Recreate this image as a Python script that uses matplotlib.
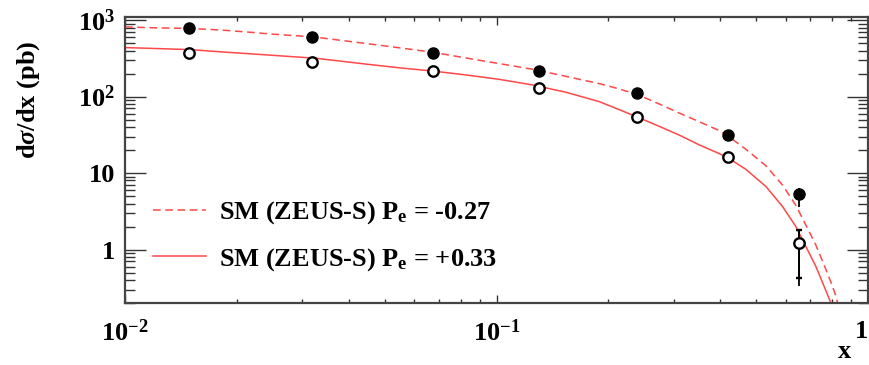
import numpy as np
import matplotlib.pyplot as plt
from matplotlib.ticker import FixedLocator, FixedFormatter, NullFormatter

# data
x_pts = [0.0149, 0.0318, 0.0673, 0.130, 0.239, 0.420, 0.653]
y_minus = [787, 606, 371, 216, 112, 31.6, 5.4]        # filled, Pe = -0.27
y_plus = [369, 281, 216, 130, 54.3, 16.3, 1.23]       # open, Pe = +0.33
minus_lo = [12, 10, 7, 5, 3, 1.2, 1.76]
minus_hi = [12, 10, 7, 5, 3, 1.2, 1.0]
plus_stat_lo = [8, 7, 5, 4, 2, 0.9, 0.81]
plus_stat_hi = [8, 7, 5, 4, 2, 0.9, 0.59]
plus_tot_lo = [9, 8, 6, 5, 2.5, 1.1, 0.90]
plus_tot_hi = [9, 8, 6, 5, 2.5, 1.1, 0.59]

# SM curves (ZEUS-S)
x_sm_plus = [0.0100, 0.01191, 0.01495, 0.0180, 0.02454, 0.03276, 0.04465,
             0.05484, 0.06743, 0.08288, 0.1019, 0.1252, 0.1539, 0.1891,
             0.2141, 0.2424, 0.2744, 0.3104, 0.3512, 0.3975, 0.4184, 0.4690,
             0.5309, 0.5884, 0.6391, 0.6800, 0.7235, 0.7615, 0.7938]
y_sm_plus = [438, 427, 412, 386, 349, 317, 266,
             238, 216, 192, 168, 142, 114, 86,
             67.5, 52.7, 40.8, 31.4, 23.4, 18.0, 16.0, 11.2,
             6.69, 3.67, 2.01, 1.10, 0.605, 0.332, 0.2017]
x_sm_minus = [0.0100, 0.01191, 0.01495, 0.0180, 0.02213, 0.02454, 0.03208,
              0.04465, 0.05484, 0.06743, 0.08288, 0.1019, 0.1252, 0.1539,
              0.1891, 0.2141, 0.2424, 0.2744, 0.3104, 0.3512, 0.3975, 0.4184,
              0.4690, 0.5309, 0.5884, 0.6391, 0.6800, 0.7235, 0.7615, 0.7938,
              0.8188, 0.828]
y_sm_minus = [817, 795, 779, 745, 690, 660, 605,
              495, 435, 380, 320, 270, 228, 184,
              148, 126, 104, 80, 61, 47, 36, 31,
              20.5, 12.5, 7.0, 3.8, 2.1, 1.15, 0.63, 0.38,
              0.25, 0.2]

plt.rcParams['font.family'] = ['Liberation Serif', 'DejaVu Serif']
plt.rcParams['font.weight'] = 'bold'
plt.rcParams['mathtext.fontset'] = 'custom'
plt.rcParams['mathtext.rm'] = 'Liberation Serif:bold'
plt.rcParams['mathtext.it'] = 'Liberation Serif:italic:bold'
plt.rcParams['mathtext.bf'] = 'Liberation Serif:bold'

red = '#ff4848'
fs = 19

fig = plt.figure(figsize=(8.7, 3.65), dpi=100)
ax = fig.add_axes([0.1437, 0.1699, 0.8540, 0.7835])

l1, = ax.plot(x_sm_minus, y_sm_minus, color=red, lw=1.1, dashes=(5, 3),
              label=r'SM (ZEUS-S) P$_{\rm e}$ = -0.27')
l2, = ax.plot(x_sm_plus, y_sm_plus, color=red, lw=1.1,
              label=r'SM (ZEUS-S) P$_{\rm e}$ = +0.33')

ax.errorbar(x_pts, y_minus, yerr=[minus_lo, minus_hi], fmt='o', color='black',
            ms=8, elinewidth=1.3, capsize=0, zorder=5)
ax.errorbar(x_pts, y_plus, yerr=[plus_tot_lo, plus_tot_hi], fmt='none',
            ecolor='black', elinewidth=1.3, capsize=0, zorder=5)
ax.errorbar(x_pts, y_plus, yerr=[plus_stat_lo, plus_stat_hi], fmt='o',
            color='black', mfc='white', mec='black', mew=1.7, ms=7.5,
            elinewidth=1.3, capsize=2, capthick=1.0, zorder=6)

ax.set_xscale('log')
ax.set_yscale('log')
ax.set_xlim(0.01, 1)
ax.set_ylim(0.2, 1100)

ax.xaxis.set_major_locator(FixedLocator([0.01, 0.1, 1]))
ax.xaxis.set_major_formatter(FixedFormatter([r'$10^{-2}$', r'$10^{-1}$', '1']))
ax.xaxis.set_minor_locator(FixedLocator([m * d for d in [0.01, 0.1] for m in range(2, 10)]))
ax.xaxis.set_minor_formatter(NullFormatter())
ax.yaxis.set_major_locator(FixedLocator([1, 10, 100, 1000]))
ax.yaxis.set_major_formatter(FixedFormatter(['1', '10', r'$10^{2}$', r'$10^{3}$']))
ax.yaxis.set_minor_locator(FixedLocator([m * d for d in [0.1, 1, 10, 100, 1000] for m in range(2, 10)]))
ax.yaxis.set_minor_formatter(NullFormatter())

ax.tick_params(axis='both', which='both', direction='in', top=True, right=True,
               colors='#333333', labelcolor='black', labelsize=fs)
ax.tick_params(axis='x', which='major', length=6, width=1.0, pad=12)
ax.tick_params(axis='x', which='minor', length=3, width=1.0)
ax.tick_params(axis='y', which='major', length=15, width=1.0, pad=7)
ax.tick_params(axis='y', which='minor', length=7, width=1.0)
for sp in ax.spines.values():
    sp.set_color('#444444')
    sp.set_linewidth(1.6)

# keep the "1" label inside the figure
ax.xaxis.get_major_ticks()[-1].label1.set_horizontalalignment('right')

ax.set_ylabel(r'd$\sigma$/dx (pb)', fontsize=fs, fontweight='bold')
ax.yaxis.set_label_coords(-0.112, 0.71)
ax.set_xlabel('x', fontsize=fs, fontweight='bold')
ax.xaxis.set_label_coords(0.969, -0.13)

ax.legend(handles=[l1, l2], loc='center left', bbox_to_anchor=(0.0377, 0.234),
          frameon=False, fontsize=fs, handlelength=2.0, handletextpad=0.5,
          labelspacing=0.75, borderpad=0, borderaxespad=0)

fig.savefig('out.png', dpi=100)
